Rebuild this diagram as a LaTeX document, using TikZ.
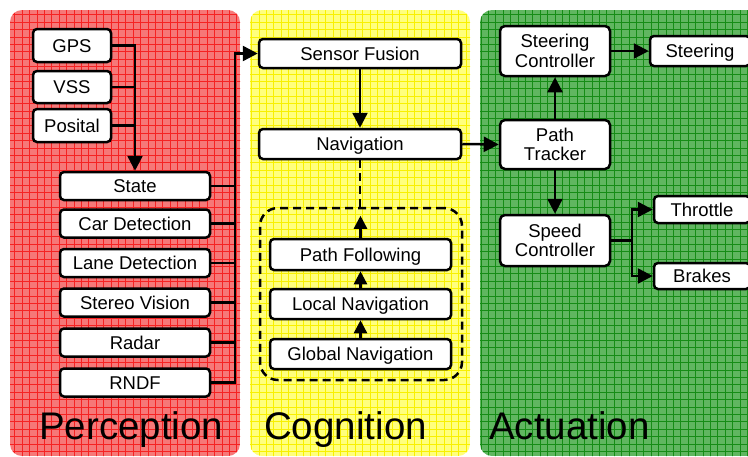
\documentclass[tikz,border=0pt]{standalone}
\usepackage{fontspec}
\setmainfont{Liberation Sans}
\usetikzlibrary{arrows.meta}

\definecolor{redbase}{RGB}{246,120,120}
\definecolor{redgrid}{RGB}{245,35,35}
\definecolor{yelbase}{RGB}{255,255,125}
\definecolor{yelgrid}{RGB}{248,240,0}
\definecolor{grnbase}{RGB}{96,182,96}
\definecolor{grngrid}{RGB}{22,140,22}

\tikzset{
  box/.style={draw=black, line width=2.5pt, fill=white, rounded corners=4pt,
    inner sep=0pt, font=\fontsize{18.5}{19.5}\selectfont,
    text height=13.3pt, text depth=0pt},
  twoline/.style={draw=black, line width=2.5pt, fill=white, rounded corners=5pt,
    inner sep=0pt, font=\fontsize{18.5}{19.5}\selectfont, align=center},
  wire/.style={draw=black, line width=2.5pt},
  arr/.style={wire, -{Triangle[length=15pt,width=15pt]}},
  smallarr/.style={wire, -{Triangle[length=13pt,width=13pt]}},
  dashwire/.style={wire, dash pattern=on 8pt off 5pt},
  paneltitle/.style={inner sep=0pt, anchor=base west, font=\fontsize{38.5}{40}\selectfont},
}

\begin{document}
\begin{tikzpicture}[x=1pt,y=-1pt]
\useasboundingbox (0,0) rectangle (748,456);
\clip (0,0) rectangle (748,456);

% three shaded panels with a fine grid texture
\foreach \xa/\xb/\base/\grid in {10/240/redbase/redgrid, 250/470/yelbase/yelgrid, 480/775/grnbase/grngrid} {
  \begin{scope}
    \clip[rounded corners=12pt] (\xa,10) rectangle (\xb,456);
    \fill[\base] (\xa,10) rectangle (\xb,456);
    \foreach \k in {0,...,105} \draw[\grid, line width=1pt] (\k*7.4,0) -- (\k*7.4,460);
    \foreach \k in {0,...,62} \draw[\grid, line width=1pt] (0,\k*7.4) -- (780,\k*7.4);
  \end{scope}
}

\node[paneltitle] (perc) at (39,439) {Perception};
\node[paneltitle] (cogn) at (264,439) {Cognition};
\node[paneltitle] (actu) at (489,439) {Actuation};

% Perception
\node[box, minimum width=78pt, minimum height=33pt] (gps) at (72,45.5) {GPS};
\node[box, minimum width=78pt, minimum height=32pt] (vss) at (72,87) {VSS};
\node[box, minimum width=78pt, minimum height=33pt] (pos) at (72,125.5) {Posital};

\node[box, minimum width=150pt, minimum height=28pt] (state) at (135,186) {State};
\node[box, minimum width=150pt, minimum height=28pt] (car) at (135,223.5) {Car Detection};
\node[box, minimum width=150pt, minimum height=28pt] (lane) at (135,263) {Lane Detection};
\node[box, minimum width=150pt, minimum height=28pt] (stereo) at (135,302.5) {Stereo Vision};
\node[box, minimum width=150pt, minimum height=28pt] (radar) at (135,342.5) {Radar};
\node[box, minimum width=150pt, minimum height=28pt] (rndf) at (135,382.5) {RNDF};

% Cognition
\node[box, minimum width=202pt, minimum height=29pt] (sf) at (360,53.5) {Sensor Fusion};
\node[box, minimum width=202pt, minimum height=30pt] (nav) at (360,144) {Navigation};
\node[draw=black, line width=2.5pt, dash pattern=on 8pt off 5pt, rounded corners=18pt,
      minimum width=202pt, minimum height=172pt, inner sep=0pt] (grp) at (361,294) {};
\node[box, minimum width=181pt, minimum height=31pt] (pf) at (360.5,254.5) {Path Following};
\node[box, minimum width=181pt, minimum height=30pt] (lnav) at (360.5,304) {Local Navigation};
\node[box, minimum width=181pt, minimum height=30pt] (gnav) at (360.5,354) {Global Navigation};

% Actuation
\node[twoline, minimum width=110pt, minimum height=50pt] (sc) at (555,51) {Steering\\Controller};
\node[twoline, minimum width=110pt, minimum height=49pt] (pt) at (555,144.5) {Path\\Tracker};
\node[twoline, minimum width=110pt, minimum height=51pt] (spc) at (555,240.5) {Speed\\Controller};
\node[box, minimum width=100pt, minimum height=30pt] (steer) at (700,51) {Steering};
\node[box, minimum width=96pt, minimum height=27pt] (thr) at (702,209.5) {Throttle};
\node[box, minimum width=96pt, minimum height=26pt] (brk) at (702,276) {Brakes};

% sensor inputs merge into State
\draw[arr] (gps.east) -| (state.north);
\draw[wire] (vss.east) -- (vss.east -| state.north);
\draw[wire] (pos.east) -- (pos.east -| state.north);

% perception bus into Sensor Fusion
\coordinate (bus) at (235,0);
\draw[arr] (rndf.east) -| (bus |- sf.west) -- (sf.west);
\foreach \n in {state,car,lane,stereo,radar}
  \draw[wire] (\n.east) -- (\n.east -| bus);

% cognition chain
\draw[arr] (sf.south) -- (nav.north);
\draw[dashwire] (nav.south) -- (nav.south |- grp.north);
\coordinate (pftip) at ([yshift=-9pt]grp.north);
\draw[smallarr] (pf.north) -- (pf.north |- pftip);
\draw[smallarr] (lnav.north) -- (pf.south);
\draw[smallarr] (gnav.north) -- (lnav.south);

% actuation
\draw[arr] (nav.east) -- (pt.west);
\draw[arr] (pt.north) -- (sc.south);
\draw[arr] (sc.east) -- (steer.west);
\draw[arr] (pt.south) -- (spc.north);
\coordinate (split) at (632,240.5);
\draw[wire] (spc.east) -- (split);
\draw[arr] (split) |- (thr.west);
\draw[arr] (split) |- (brk.west);
\end{tikzpicture}
\end{document}
